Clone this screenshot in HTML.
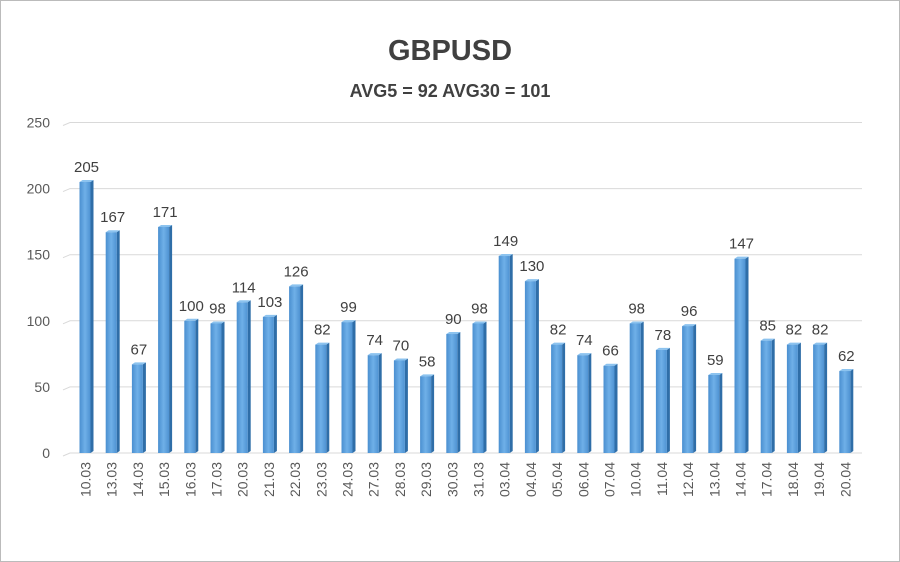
<!DOCTYPE html>
<html><head><style>
body{margin:0;background:#fff}
svg{display:block}
text{font-family:"Liberation Sans",sans-serif}
</style></head><body>
<svg width="900" height="562" xmlns="http://www.w3.org/2000/svg">
<defs>
<linearGradient id="g" x1="0" x2="1" y1="0" y2="0">
<stop offset="0" stop-color="#4a8fd0"/><stop offset="0.5" stop-color="#6fb0e8"/><stop offset="1" stop-color="#4e92d2"/>
</linearGradient>
</defs>
<rect x="0.5" y="0.5" width="899" height="561" fill="#fff" stroke="#bbb"/>
<text x="450" y="60" text-anchor="middle" font-size="29" font-weight="bold" fill="#404040">GBPUSD</text>
<text x="450" y="97" text-anchor="middle" font-size="18" font-weight="bold" fill="#404040">AVG5 = 92 AVG30 = 101</text>
<g id="grid" stroke="#d9d9d9" stroke-width="1" fill="none"></g>
<g id="bars"></g>
</svg>
<script>
var vals=[205,167,67,171,100,98,114,103,126,82,99,74,70,58,90,98,149,130,82,74,66,98,78,96,59,147,85,82,82,62];
var labs=["10.03","13.03","14.03","15.03","16.03","17.03","20.03","21.03","22.03","23.03","24.03","27.03","28.03","29.03","30.03","31.03","03.04","04.04","05.04","06.04","07.04","10.04","11.04","12.04","13.04","14.04","17.04","18.04","19.04","20.04"];
var ns="http://www.w3.org/2000/svg",svg=document.querySelector('svg');
function el(t,a,p,txt){var e=document.createElementNS(ns,t);for(var k in a)e.setAttribute(k,a[k]);if(txt!=null)e.textContent=txt;(p||svg).appendChild(e);return e;}
var base=453,k=1.322;
var grid=document.getElementById('grid'),bars=document.getElementById('bars');
for(var i=0;i<=5;i++){var y=base-i*50*k;
 el('path',{d:'M63 '+(y+3)+' L70 '+y+' L862 '+y},grid);
 el('text',{x:50,y:y+5,'text-anchor':'end','font-size':14,fill:'#595959'},svg,String(i*50));}
vals.forEach(function(v,i){
 var cx=85.5+i*26.2,h=v*k,x=cx-6,w=11,top=base-h;
 el('polygon',{points:(x+w)+','+top+' '+(x+w+3)+','+(top-2)+' '+(x+w+3)+','+(base-2)+' '+(x+w)+','+base,fill:'#2f6ea8'},bars);
 el('polygon',{points:x+','+top+' '+(x+3)+','+(top-2)+' '+(x+w+3)+','+(top-2)+' '+(x+w)+','+top,fill:'#8cc3ef'},bars);
 el('rect',{x:x,y:top,width:w,height:h,fill:'url(#g)'},bars);
 el('text',{x:cx+1,y:top-10,'text-anchor':'middle','font-size':15,fill:'#404040'},svg,String(v));
 el('text',{x:0,y:0,'text-anchor':'end','font-size':14,fill:'#595959',transform:'translate('+(cx+5)+',462) rotate(-90)'},svg,labs[i]);
});
</script>
</body></html>
